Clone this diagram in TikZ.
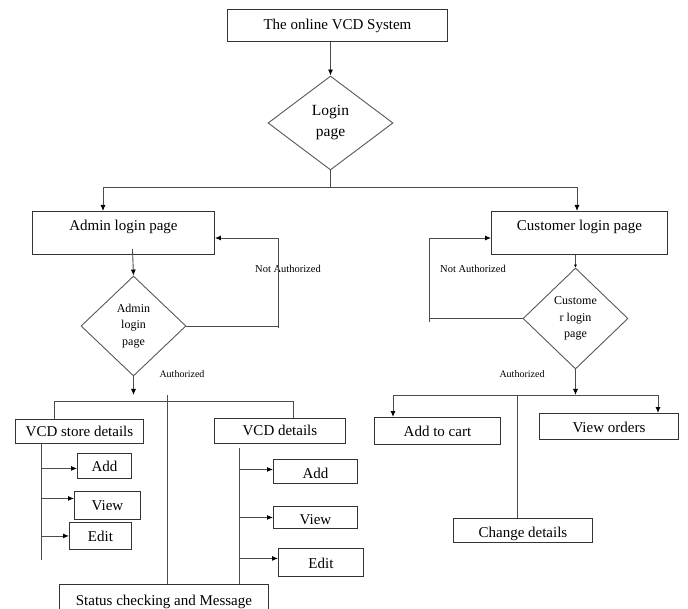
\documentclass[tikz,border=0pt]{standalone}
\usepackage{fontspec}
\setmainfont{Liberation Serif}
\usetikzlibrary{shapes.geometric,arrows.meta}
\newcommand\fsz[2]{\fontsize{#1}{#2}\selectfont}
\tikzset{
  ln/.style={draw=black!70, line width=0.9pt},
  arr/.style={ln, -{Latex[length=6pt,width=5pt,color=black]}},
  bx/.style={draw=black!80, line width=0.9pt, rectangle, inner xsep=0pt, inner ysep=0pt, anchor=north west, font=\fsz{15}{18}},
  dm/.style={draw=black!65, line width=0.9pt, diamond, inner sep=0pt, align=center, font=\fsz{12}{16.5}},
  lab/.style={inner sep=0pt, font=\fsz{10.5}{12}},
}
\begin{document}
\begin{tikzpicture}[x=1pt,y=-1pt]
\useasboundingbox (0,0) rectangle (688,609);
\fill[white] (0,0) rectangle (688,609);
\clip (0,0) rectangle (688,609);

% boxes
\node[bx, minimum width=220pt, text height=20pt, text depth=12pt] (top) at (227,9) {The online VCD System};
\node[bx, minimum width=182pt, text height=19pt, text depth=24pt] (admin) at (32,211) {Admin login page};
\node[bx, minimum width=176pt, text height=19pt, text depth=24pt] (customer) at (491,211) {Customer login page};
\node[bx, minimum width=128pt, text height=17pt, text depth=7pt] (store) at (15,419) {VCD store details};
\node[bx, minimum width=131pt, text height=17pt, text depth=8pt] (vcd) at (214,418) {VCD details};
\node[bx, minimum width=54pt, text height=18pt, text depth=7pt] (ladd) at (77,453) {Add};
\node[bx, minimum width=66pt, text height=19pt, text depth=9pt] (lview) at (74,491) {View};
\node[bx, minimum width=62pt, text height=19pt, text depth=8pt] (ledit) at (69,522) {Edit};
\node[bx, minimum width=84pt, text height=19pt, text depth=5pt] (radd) at (273,459) {Add};
\node[bx, minimum width=84pt, text height=18pt, text depth=4pt] (rview) at (273,506) {View};
\node[bx, minimum width=85pt, text height=20pt, text depth=8pt] (redit) at (278,548) {Edit};
\node[bx, minimum width=209pt, text height=21pt, text depth=15pt] (status) at (59,584) {Status checking and Message};
\node[bx, minimum width=126pt, text height=19pt, text depth=8pt] (cart) at (374,417) {Add to cart};
\node[bx, minimum width=139pt, text height=19pt, text depth=7pt] (orders) at (539,413) {View orders};
\node[bx, minimum width=139pt, text height=19pt, text depth=5pt] (change) at (453,518) {Change details};

% diamonds
\node[dm, font=\fsz{15.5}{21}, minimum width=125pt, minimum height=94pt] (login) at (330.5,123) {Login\\page};
\node[dm, minimum width=105pt, minimum height=100pt] (dadmin) at (133.5,326) {Admin\\login\\page};
\node[dm, minimum width=105pt, minimum height=101pt] (dcust) at (575.5,318.5) {Custome\\r login\\page};

% labels
\node[lab] (nal) at (288,269) {Not Authorized};
\node[lab] (ncl) at (473,269) {Not Authorized};
\node[lab, font=\fsz{10}{12}] (al) at (182,374) {Authorized};
\node[lab, font=\fsz{10}{12}] (cl) at (522,374) {Authorized};

% top part
\draw[arr] (login.north |- top.south) -- (login.north);
\coordinate (jl) at (103,187);
\coordinate (jr) at (577,187);
\draw[ln] (login.south) -- (login.south |- jl);
\draw[ln] (jl) -- (jr);
\draw[arr] (jl) -- (jl |- admin.north);
\draw[arr] (jr) -- (jr |- customer.north);

% admin side
\draw[arr] ([xshift=9pt,yshift=6pt]admin.south) -- (dadmin.north);
\coordinate (na) at (278,238);
\draw[ln] (dadmin.east) -- (dadmin.east -| na);
\draw[arr] ([yshift=-2pt]dadmin.east -| na) -- (na) -- (admin.east |- na);
\coordinate (aend) at (133.5,395);
\draw[arr] (dadmin.south) -- (aend);

\coordinate (t1) at (54,401);
\coordinate (t2) at (293,401);
\draw[ln] (t1 |- store.north) -- (t1) -- (t2) -- (t2 |- vcd.north);
\coordinate (mid) at (167,395);
\draw[ln] (mid) -- (mid |- status.north);

\coordinate (s1) at (41,443);
\coordinate (s2) at (41,560);
\draw[ln] (s1) -- (s2);
\draw[arr] ([yshift=-2.5pt]ladd.west -| s1) -- ([yshift=-2.5pt]ladd.west);
\draw[arr] ([yshift=7pt]lview.west -| s1) -- ([yshift=7pt]lview.west);
\draw[arr] (ledit.west -| s1) -- (ledit.west);

\coordinate (r1) at (239,448);
\draw[ln] (r1) -- (r1 |- status.north);
\draw[arr] ([yshift=2pt]radd.west -| r1) -- ([yshift=2pt]radd.west);
\draw[arr] (rview.west -| r1) -- (rview.west);
\draw[arr] ([yshift=4pt]redit.west -| r1) -- ([yshift=4pt]redit.west);

% customer side
\draw[ln, -{Latex[length=3pt,width=3pt,color=black]}] (customer.south -| dcust.north) -- (dcust.north);
\coordinate (nc) at (429,238);
\draw[ln] (dcust.west) -- (dcust.west -| nc);
\draw[arr] ([yshift=-4pt]dcust.west -| nc) -- (nc) -- (customer.west |- nc);
\coordinate (cj) at (577,395);
\draw[arr] (dcust.south) -- (dcust.south |- cj);
\coordinate (c1) at (393,395);
\coordinate (c2) at (658,395);
\coordinate (c3) at (517,395);
\draw[ln] (c1) -- (c2);
\draw[arr] (c1) -- (c1 |- cart.north);
\draw[arr] (c2) -- (c2 |- orders.north);
\draw[ln] (c3) -- (c3 |- change.north);
\end{tikzpicture}
\end{document}
